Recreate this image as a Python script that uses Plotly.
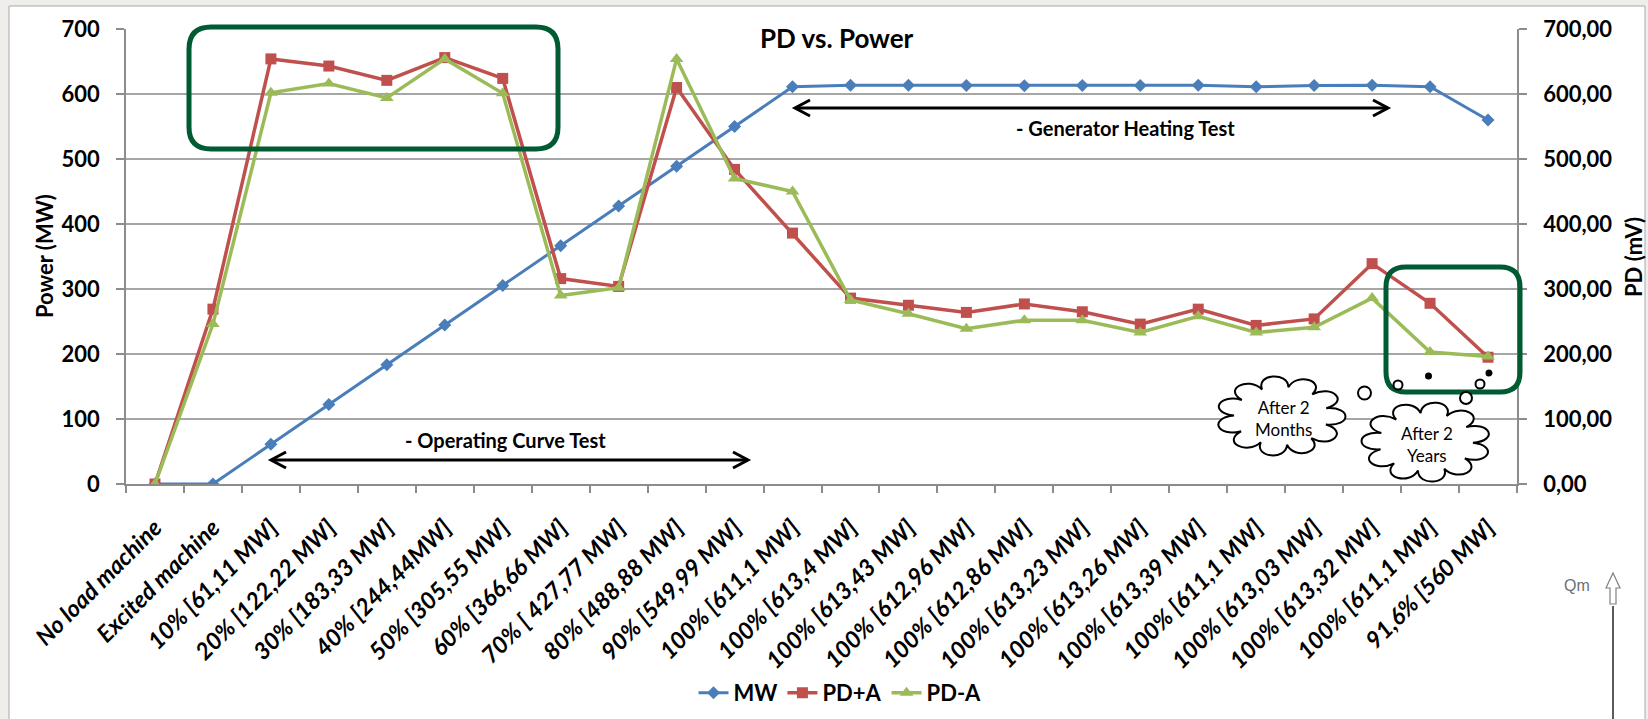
import numpy as np
import plotly.graph_objects as go

# ---------------- data ----------------
categories = [
    "No load machine", "Excited machine", "10% [61,11 MW]", "20% [122,22 MW]",
    "30% [183,33 MW]", "40% [244,44MW]", "50% [305,55 MW]", "60% [366,66 MW]",
    "70% [ 427,77 MW]", "80% [488,88 MW]", "90% [549,99 MW]", "100% [611,1 MW]",
    "100% [613,4 MW]", "100% [613,43 MW]", "100% [612,96 MW]", "100% [612,86 MW]",
    "100% [613,23 MW]", "100% [613,26 MW]", "100% [613,39 MW]", "100% [611,1 MW]",
    "100% [613,03 MW]", "100% [613,32 MW]", "100% [611,1 MW]", "91,6% [560 MW]",
]
mw = [0, 0, 61.11, 122.22, 183.33, 244.44, 305.55, 366.66, 427.77, 488.88, 549.99,
      611.1, 613.4, 613.43, 612.96, 612.86, 613.23, 613.26, 613.39, 611.1, 613.03,
      613.32, 611.1, 560]
pd_plus_a = [0, 269, 654, 643, 621, 656, 624, 316, 304, 610, 484, 386, 286, 275,
             264, 277, 265, 246, 269, 244, 254, 339, 278, 195]
pd_minus_a = [0, 246, 602, 616, 594, 654, 601, 290, 302, 654, 470, 450, 283, 262,
              239, 252, 252, 233, 258, 233, 241, 286, 203, 196]
y_tick_vals = [0, 100, 200, 300, 400, 500, 600, 700]
y_left_labels = ["0", "100", "200", "300", "400", "500", "600", "700"]
y_right_labels = ["0,00", "100,00", "200,00", "300,00", "400,00", "500,00", "600,00", "700,00"]

# ---------------- layout geometry (pixels) ----------------
FW, FH = 1648, 719
ML, MR, MT, MB = 126, 131, 29, 235
PW, PH = FW - ML - MR, FH - MT - MB
FONT = "Lato"
GRID = "#a6a6a6"
AXIS = "#8c8c8c"
DKGREEN = "#005a32"


def fx(x):
    return (x - ML) / PW


def fy(y):
    return (FH - MB - y) / PH


def P(x, y):
    return f"{fx(x):.5f},{fy(y):.5f}"


def rrect_path(x0, y0, x1, y1, r):
    return (f"M {P(x0 + r, y0)} L {P(x1 - r, y0)} Q {P(x1, y0)} {P(x1, y0 + r)} "
            f"L {P(x1, y1 - r)} Q {P(x1, y1)} {P(x1 - r, y1)} "
            f"L {P(x0 + r, y1)} Q {P(x0, y1)} {P(x0, y1 - r)} "
            f"L {P(x0, y0 + r)} Q {P(x0, y0)} {P(x0 + r, y0)} Z")


def cloud_path(cx, cy, rx, ry, n=11, bulge=1.55, phase=0.3):
    ang = np.linspace(0, 2 * np.pi, n + 1) + phase
    pts = [(cx + rx * np.cos(a), cy + ry * np.sin(a)) for a in ang]
    s = f"M {P(*pts[0])}"
    for i in range(n):
        a0, a1 = ang[i], ang[i + 1]
        c1 = (cx + rx * bulge * np.cos(a0 + (a1 - a0) * 0.1), cy + ry * bulge * np.sin(a0 + (a1 - a0) * 0.1))
        c2 = (cx + rx * bulge * np.cos(a0 + (a1 - a0) * 0.9), cy + ry * bulge * np.sin(a0 + (a1 - a0) * 0.9))
        s += f" C {P(*c1)} {P(*c2)} {P(*pts[i + 1])}"
    return s + " Z"


def circle(cx, cy, d, filled=False):
    return dict(type="circle", xref="paper", yref="paper",
                x0=fx(cx - d / 2), x1=fx(cx + d / 2), y0=fy(cy + d / 2), y1=fy(cy - d / 2),
                line=dict(color="black", width=2),
                fillcolor="black" if filled else "white", layer="above")


def hline(x0, x1, y, color="black", width=3):
    return dict(type="line", xref="paper", yref="paper", x0=fx(x0), x1=fx(x1),
                y0=fy(y), y1=fy(y), line=dict(color=color, width=width), layer="above")


def chevron(xtip, y, direction, size=15, half=8):
    xb = xtip - direction * size
    return dict(type="path", xref="paper", yref="paper",
                path=f"M {P(xb, y - half)} L {P(xtip, y)} L {P(xb, y + half)}",
                line=dict(color="black", width=3), layer="above")


x_idx = list(range(len(categories)))

fig = go.Figure()
fig.add_trace(go.Scatter(x=x_idx, y=mw, name="MW", mode="lines+markers",
                         line=dict(color="#4a7ebb", width=3),
                         marker=dict(symbol="diamond", size=10, color="#4a7ebb"),
                         yaxis="y"))
fig.add_trace(go.Scatter(x=x_idx, y=pd_plus_a, name="PD+A", mode="lines+markers",
                         line=dict(color="#c0504d", width=3.5),
                         marker=dict(symbol="square", size=11, color="#c0504d"),
                         yaxis="y2"))
fig.add_trace(go.Scatter(x=x_idx, y=pd_minus_a, name="PD-A", mode="lines+markers",
                         line=dict(color="#9bbb59", width=3.5),
                         marker=dict(symbol="triangle-up", size=12, color="#9bbb59"),
                         yaxis="y2"))
fig.add_trace(go.Scatter(x=[None], y=[None], xaxis="x2", yaxis="y", showlegend=False,
                         hoverinfo="skip"))

tickfont = dict(family=FONT, size=22, color="black", weight="bold")
xr = [-0.5, len(categories) - 0.5]

shapes = [
    # white chart area with thin grey border
    dict(type="rect", xref="paper", yref="paper", x0=fx(9), x1=fx(1645), y0=fy(6), y1=fy(730),
         fillcolor="white", line=dict(color="#a8a8a8", width=1), layer="below"),
    # highlight boxes
    dict(type="path", xref="paper", yref="paper", path=rrect_path(189, 27, 558, 149, 22),
         line=dict(color=DKGREEN, width=5), layer="above"),
    dict(type="path", xref="paper", yref="paper", path=rrect_path(1386, 267, 1520, 392, 20),
         line=dict(color=DKGREEN, width=5), layer="above"),
    # arrows
    hline(272, 747, 460), chevron(271, 460, -1), chevron(748, 460, 1),
    hline(796, 1387, 108), chevron(795, 108, -1), chevron(1388, 108, 1),
    # clouds
    dict(type="path", xref="paper", yref="paper", path=cloud_path(1281, 416, 47, 29),
         line=dict(color="black", width=2), fillcolor="white", layer="above"),
    dict(type="path", xref="paper", yref="paper", path=cloud_path(1426, 442, 47, 29, phase=0.6),
         line=dict(color="black", width=2), fillcolor="white", layer="above"),
    circle(1364.5, 393, 13), circle(1398, 385, 9), circle(1428.5, 376, 5, True),
    circle(1466, 398, 12), circle(1480, 384, 9), circle(1489, 373, 5, True),
    # Qm hollow arrow + line
    dict(type="path", xref="paper", yref="paper",
         path=(f"M {P(1610, 604)} L {P(1610, 588)} L {P(1606, 588)} L {P(1613, 573)} "
               f"L {P(1620, 588)} L {P(1616, 588)} L {P(1616, 604)} Z"),
         line=dict(color="#808080", width=1.2), fillcolor="white", layer="above"),
    dict(type="line", xref="paper", yref="paper", x0=fx(1613), x1=fx(1613), y0=fy(606), y1=fy(725),
         line=dict(color="#5a5a5a", width=2), layer="above"),
]


def ann(text, x, y, size, weight="normal", color="black", angle=0, family=FONT):
    return dict(text=text, xref="paper", yref="paper", x=fx(x), y=fy(y), showarrow=False,
                xanchor="center", yanchor="middle", textangle=angle,
                font=dict(family=family, size=size, color=color, weight=weight))


annotations = [
    ann("PD vs. Power", 837, 38, 26, "bold"),
    ann("Power (MW)", 44, 256, 22, "bold", angle=-90),
    ann("PD (mV)", 1633, 257, 22, "bold", angle=-90),
    ann("- Operating Curve Test", 505, 440, 20, "bold"),
    ann("- Generator Heating Test", 1125, 128, 20, "bold"),
    ann("After 2<br>Months", 1283, 418, 17),
    ann("After 2<br>Years", 1427, 444, 17),
    ann("Qm", 1577, 585, 16, color="#6f6f6f", family="Liberation Sans"),
]

fig.update_layout(
    width=FW, height=FH,
    margin=dict(l=ML, r=MR, t=MT, b=MB, autoexpand=False),
    paper_bgcolor="#efeeea", plot_bgcolor="white",
    showlegend=True,
    legend=dict(orientation="h", x=fx(840), xanchor="center", y=fy(693), yanchor="middle",
                font=dict(family=FONT, size=22, color="black", weight="bold"),
                bgcolor="rgba(0,0,0,0)", itemwidth=30, traceorder="normal"),
    xaxis=dict(range=xr, tickvals=x_idx, ticktext=categories, tickangle=-45,
               ticks="", showgrid=False, zeroline=False, showline=True, linecolor=AXIS,
               linewidth=1.5, tickfont=dict(family=FONT, size=23.5, color="black",
                                            weight="bold", style="italic"),
               ticklabelstandoff=19, automargin=False),
    xaxis2=dict(range=xr, overlaying="x", anchor="y", side="bottom",
                tickvals=[i - 0.5 for i in range(len(categories) + 1)],
                ticks="outside", ticklen=8, tickcolor=AXIS, tickwidth=1.5,
                showticklabels=False, showgrid=False, zeroline=False, showline=False,
                automargin=False),
    yaxis=dict(range=[0, 700], tickvals=y_tick_vals, ticktext=y_left_labels,
               showgrid=True, gridcolor=GRID, gridwidth=1.5, zeroline=False,
               showline=True, linecolor=AXIS, linewidth=1.5, ticks="outside", ticklen=8,
               tickcolor=AXIS, tickwidth=1.5, tickfont=tickfont, ticklabelstandoff=12,
               automargin=False),
    yaxis2=dict(range=[0, 700], overlaying="y", side="right", tickvals=y_tick_vals,
                ticktext=y_right_labels, showgrid=False, zeroline=False, showline=True,
                linecolor=AXIS, linewidth=1.5, ticks="outside", ticklen=8, tickcolor=AXIS,
                tickwidth=1.5, tickfont=tickfont, ticklabelstandoff=12, automargin=False),
    shapes=shapes,
    annotations=annotations,
)

fig.write_html(
    "out.html",
    config={"displayModeBar": False},
    post_script="document.body.style.margin='0px';document.body.style.background='#efeeea';",
)
